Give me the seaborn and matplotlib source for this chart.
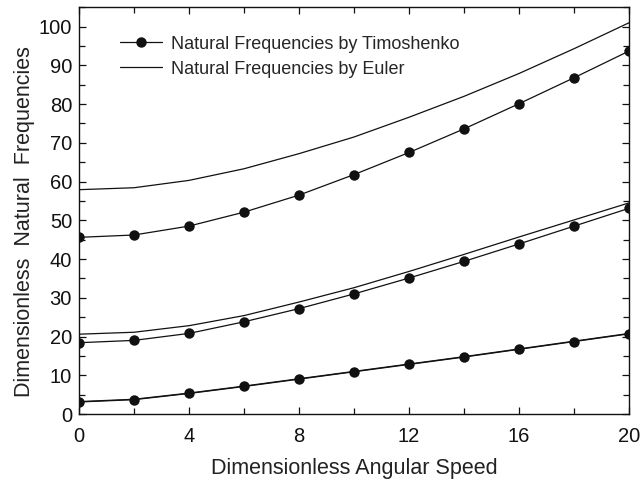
import numpy as np
import pandas as pd
import seaborn as sns
import matplotlib
matplotlib.use("Agg")
import matplotlib.pyplot as plt
from matplotlib.ticker import MultipleLocator

# Dimensionless angular speed
speed = [0, 2, 4, 6, 8, 10, 12, 14, 16, 18, 20]

# Timoshenko beam: first three natural frequencies
timo_1 = [3.1, 3.7, 5.3, 7.1, 9.0, 10.9, 12.8, 14.7, 16.7, 18.7, 20.7]
timo_2 = [18.4, 19.0, 20.8, 23.8, 27.2, 31.0, 35.1, 39.4, 43.9, 48.5, 53.1]
timo_3 = [45.6, 46.2, 48.5, 52.1, 56.5, 61.8, 67.5, 73.6, 80.1, 86.8, 93.7]

# Euler-Bernoulli beam: first three natural frequencies
euler_1 = [3.2, 3.8, 5.4, 7.2, 9.1, 11.0, 12.9, 14.8, 16.8, 18.8, 20.8]
euler_2 = [20.6, 21.1, 22.8, 25.4, 28.9, 32.6, 36.8, 41.2, 45.7, 50.1, 54.5]
euler_3 = [57.9, 58.4, 60.3, 63.3, 67.2, 71.5, 76.6, 82.0, 87.9, 94.3, 101.0]

TIMO_LABEL = "Natural Frequencies by Timoshenko"
EULER_LABEL = "Natural Frequencies by Euler"

sns.set_style("ticks")
plt.rcParams["font.family"] = ["Liberation Sans", "DejaVu Sans"]

fig = plt.figure(figsize=(6.42, 4.8), dpi=100)
ax = fig.add_axes([0.123, 0.1375, 0.857, 0.8475])

for i, ys in enumerate([timo_1, timo_2, timo_3]):
    sns.lineplot(x=speed, y=ys, ax=ax, color="#111111", lw=0.9,
                 marker="o", markersize=7.5, markeredgewidth=0,
                 label=TIMO_LABEL if i == 0 else None, legend=False)
for i, ys in enumerate([euler_1, euler_2, euler_3]):
    sns.lineplot(x=speed, y=ys, ax=ax, color="#111111", lw=0.9,
                 label=EULER_LABEL if i == 0 else None, legend=False)

ax.set_xlim(0, 20)
ax.set_ylim(0, 105)
ax.xaxis.set_major_locator(MultipleLocator(4))
ax.xaxis.set_minor_locator(MultipleLocator(2))
ax.yaxis.set_major_locator(MultipleLocator(10))
ax.yaxis.set_minor_locator(MultipleLocator(5))
ax.tick_params(which="both", direction="in", top=True, right=True,
               width=0.9, colors="#111111", labelsize=14.5)
ax.tick_params(which="major", length=5)
ax.tick_params(which="minor", length=4)
ax.tick_params(axis="x", pad=9)
ax.tick_params(axis="y", pad=5)
for s in ax.spines.values():
    s.set_linewidth(1.0)
    s.set_color("#111111")

ax.set_xlabel("Dimensionless Angular Speed", fontsize=15.5, labelpad=9,
              color="#222222")
ax.set_ylabel("Dimensionless  Natural  Frequencies", fontsize=15.5,
              color="#222222")
ax.yaxis.set_label_coords(-0.08, 0.472)

handles, labels = ax.get_legend_handles_labels()
ax.legend(handles, labels, loc="upper left", bbox_to_anchor=(0.045, 0.97),
          frameon=False, fontsize=13, handlelength=2.3, handletextpad=0.5,
          labelspacing=0.45)

fig.savefig("out.png", dpi=100)
